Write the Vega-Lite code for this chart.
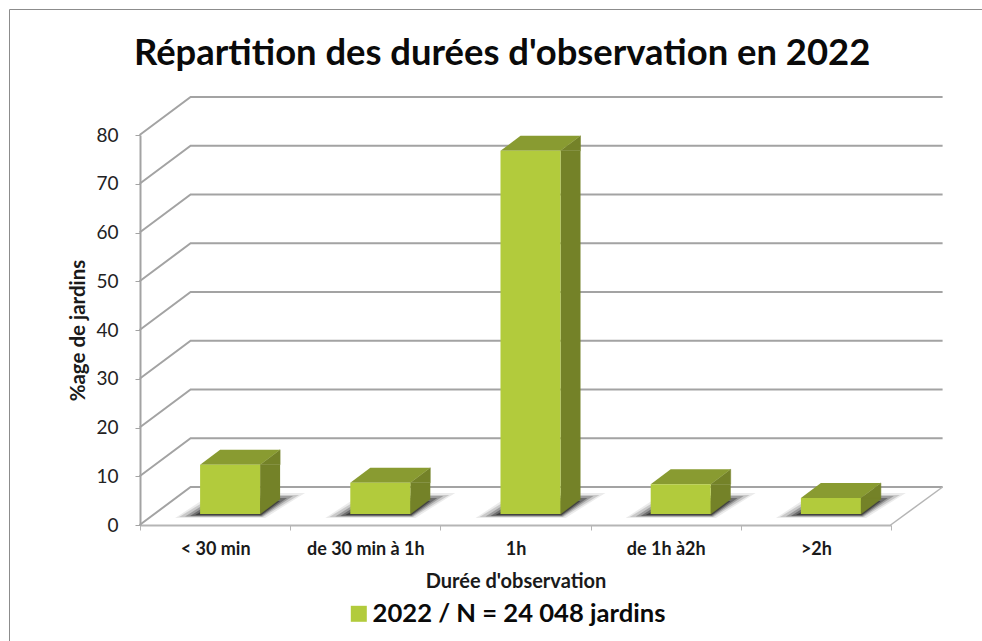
{
"$schema":"https://vega.github.io/schema/vega-lite/v6.json",
"autosize":"none",
"padding":{"left":9,"top":9,"right":0,"bottom":0},
"width":980,"height":640,
"background":"white",
"view":{"stroke":"#8c8c8c","strokeWidth":1,"fill":"white"},
"title":{"text":"Répartition des durées d'observation en 2022","anchor":"start","frame":"group","font":"Lato","fontSize":36.4,"fontWeight":"bold","color":"#0a0a0a","offset":-63,"dx":125},
"datasets":{
"bars":[
{"duree":"< 30 min","pct":10.1,"serie":"2022 / N = 24 048 jardins"},
{"duree":"de 30 min à 1h","pct":6.4,"serie":"2022 / N = 24 048 jardins"},
{"duree":"1h","pct":74.5,"serie":"2022 / N = 24 048 jardins"},
{"duree":"de 1h à2h","pct":6.1,"serie":"2022 / N = 24 048 jardins"},
{"duree":">2h","pct":3.3,"serie":"2022 / N = 24 048 jardins"}],
"levels":[{"level":0},{"level":10},{"level":20},{"level":30},{"level":40},{"level":50},{"level":60},{"level":70},{"level":80}]
},
"data":{"name":"bars"},
"layer":[
{"data":{"name":"levels"},
 "mark":{"type":"point","shape":"M-75.5,0L-24.5,-38L727.5,-38","size":4,"filled":false,"stroke":"#a3a3a3","strokeWidth":2,"opacity":1},
 "encoding":{
  "x":{"datum":"< 30 min","type":"nominal","scale":{"type":"band","domain":["< 30 min","de 30 min à 1h","1h","de 1h à2h",">2h"],"range":[131,882],"paddingInner":0,"paddingOuter":0},
   "axis":{"orient":"bottom","offset":-124,"title":"Durée d'observation","titleFont":"Lato","titleFontSize":20,"titleFontWeight":"bold","titleColor":"#1a1a1a","titlePadding":13,"labelFont":"Lato","labelFontSize":18,"labelFontWeight":"bold","labelColor":"#1a1a1a","labelPadding":10,"labelAngle":0,"labelLimit":300,"tickBand":"extent","tickSize":5,"tickColor":"#b5b5b5","domainColor":"#b5b5b5","domainWidth":2,"grid":false}},
  "y":{"field":"level","type":"quantitative","scale":{"domain":[0,80],"range":[516,126],"nice":false,"zero":false},
   "axis":{"orient":"left","offset":-131,"title":"%age de jardins","titleFont":"Lato","titleFontSize":20.5,"titleFontWeight":"bold","titleColor":"#1a1a1a","titlePadding":7,"labelFont":"Lato","labelFontSize":19,"labelColor":"#222222","labelPadding":17,"values":[0,10,20,30,40,50,60,70,80],"tickSize":5,"tickColor":"#a3a3a3","domainColor":"#a3a3a3","domainWidth":2,"grid":false}}
 }},
{"data":{"values":[{"level":0}]},
 "mark":{"type":"point","shape":"M727.5,-38L675.5,0","size":4,"filled":false,"stroke":"#b5b5b5","strokeWidth":1.5,"opacity":1},
 "encoding":{"x":{"datum":"< 30 min","type":"nominal"},"y":{"field":"level","type":"quantitative"}}},
{"mark":{"type":"point","shape":"M-40,-7L50,-7L90,-32L-2,-32Z","size":4,"filled":true,"fill":"#000000","opacity":0.08,"strokeWidth":0},
 "encoding":{"x":{"field":"duree","type":"nominal"},"y":{"datum":0,"type":"quantitative"}}},
{"mark":{"type":"point","shape":"M-36,-8L48,-8L84,-30L0,-30Z","size":4,"filled":true,"fill":"#000000","opacity":0.14,"strokeWidth":0},
 "encoding":{"x":{"field":"duree","type":"nominal"},"y":{"datum":0,"type":"quantitative"}}},
{"mark":{"type":"point","shape":"M-30,-8.5L47,-8.5L78,-29L2,-29Z","size":4,"filled":true,"fill":"#000000","opacity":0.22,"strokeWidth":0},
 "encoding":{"x":{"field":"duree","type":"nominal"},"y":{"datum":0,"type":"quantitative"}}},
{"mark":{"type":"point","shape":"M-25,-9L46,-9L72,-27L3,-27Z","size":4,"filled":true,"fill":"#000000","opacity":0.3,"strokeWidth":0},
 "encoding":{"x":{"field":"duree","type":"nominal"},"y":{"datum":0,"type":"quantitative"}}},
{"mark":{"type":"point","shape":"M-20,-10L46,-10L65,-24L5,-24Z","size":4,"filled":true,"fill":"#000000","opacity":0.4,"strokeWidth":0},
 "encoding":{"x":{"field":"duree","type":"nominal"},"y":{"datum":0,"type":"quantitative"}}},
{"mark":{"type":"bar","size":20,"xOffset":55,"yOffset":-11,"y2Offset":-26,"color":"#748228"},
 "encoding":{"x":{"field":"duree","type":"nominal"},"y":{"field":"pct","type":"quantitative"},"y2":{"datum":0}}},
{"mark":{"type":"point","shape":"M45,-11L65,-26L65,-11Z","size":4,"filled":true,"fill":"#748228","stroke":"#748228","strokeWidth":0.5,"opacity":1},
 "encoding":{"x":{"field":"duree","type":"nominal"},"y":{"field":"pct","type":"quantitative"}}},
{"mark":{"type":"point","shape":"M45,-11L65,-26L45,-26Z","size":4,"filled":true,"fill":"#748228","stroke":"#748228","strokeWidth":0.5,"opacity":1},
 "encoding":{"x":{"field":"duree","type":"nominal"},"y":{"datum":0,"type":"quantitative"}}},
{"mark":{"type":"point","shape":"M-15,-11L45,-11L65,-26L5,-26Z","size":4,"filled":true,"fill":"#899b31","opacity":1,"strokeWidth":0},
 "encoding":{"x":{"field":"duree","type":"nominal"},"y":{"field":"pct","type":"quantitative"}}},
{"mark":{"type":"bar","size":60,"xOffset":15,"yOffset":-11,"y2Offset":-11},
 "encoding":{"x":{"field":"duree","type":"nominal"},"y":{"field":"pct","type":"quantitative"},"y2":{"datum":0},
  "color":{"field":"serie","type":"nominal","scale":{"range":["#b2cb3c"]},
   "legend":{"orient":"none","legendX":337,"legendY":592,"title":null,"symbolType":"square","symbolSize":256,"symbolStrokeWidth":0,"labelFont":"Lato","labelFontSize":25.6,"labelFontWeight":"bold","labelColor":"#0a0a0a","labelLimit":400,"padding":0,"labelOffset":1}}}}
]
}
